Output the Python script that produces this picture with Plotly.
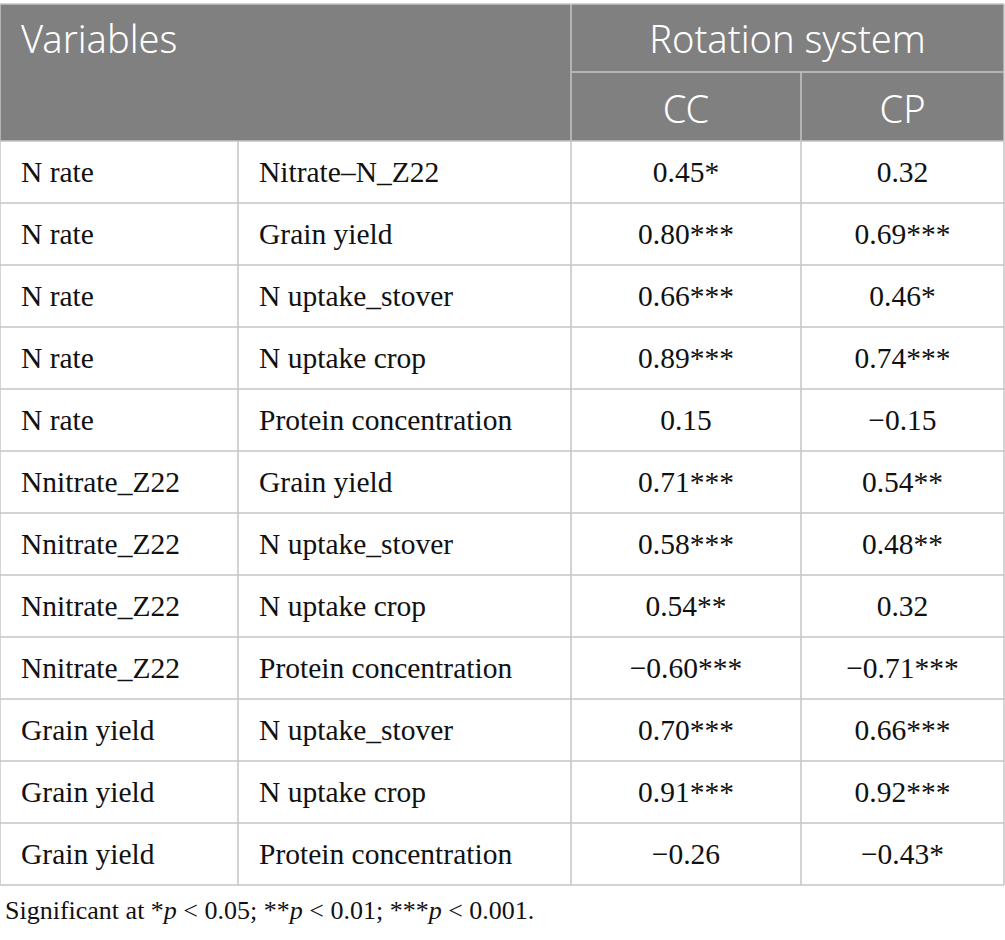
import plotly.graph_objects as go

# table content
var_first = ["N rate", "N rate", "N rate", "N rate", "N rate",
             "Nnitrate_Z22", "Nnitrate_Z22", "Nnitrate_Z22", "Nnitrate_Z22",
             "Grain yield", "Grain yield", "Grain yield"]
var_second = ["Nitrate–N_Z22", "Grain yield", "N uptake_stover", "N uptake crop",
              "Protein concentration", "Grain yield", "N uptake_stover", "N uptake crop",
              "Protein concentration", "N uptake_stover", "N uptake crop",
              "Protein concentration"]
cc_values = ["0.45*", "0.80***", "0.66***", "0.89***", "0.15", "0.71***", "0.58***",
             "0.54**", "−0.60***", "0.70***", "0.91***", "−0.26"]
cp_values = ["0.32", "0.69***", "0.46*", "0.74***", "−0.15", "0.54**", "0.48**",
             "0.32", "−0.71***", "0.66***", "0.92***", "−0.43*"]
header_top = ["Variables", "Rotation system"]
header_sub = ["CC", "CP"]
footnote = "Significant at *<i>p</i> < 0.05; **<i>p</i> < 0.01; ***<i>p</i> < 0.001."

# geometry (pixel-like axis units)
W, H = 1005, 940
col_edges = [0, 238, 571, 801, 1004]
top, head_split, head_bottom, row_h = 4, 72, 141, 62
pad = 21
text_nudge = 3  # scatter "middle" sits a bit high for these fonts
GRAY = "#808080"
LINE = "#c4c4c4"
SERIF = "Liberation Serif"
SANS = "Noto Sans"

n = len(cc_values)
row_mid = [head_bottom + (i + 0.5) * row_h + text_nudge for i in range(n)]
body_bottom = head_bottom + n * row_h
mid = lambda a, b: (a + b) / 2

fig = go.Figure()

body_font = dict(family=SERIF, size=29.5, color="#111111")
for col, vals in enumerate([var_first, var_second]):
    fig.add_trace(go.Scatter(x=[col_edges[col] + pad] * n, y=row_mid, text=vals,
                             mode="text", textposition="middle right",
                             textfont=body_font, hoverinfo="skip"))
for col, vals in zip([2, 3], [cc_values, cp_values]):
    fig.add_trace(go.Scatter(x=[mid(col_edges[col], col_edges[col + 1])] * n, y=row_mid,
                             text=vals, mode="text", textposition="middle center",
                             textfont=body_font, hoverinfo="skip"))

head_font = dict(family=SANS, size=38, color="white", weight=300)
y_top_text = mid(top, head_split) + 5
y_sub_text = mid(head_split, head_bottom) + 7
fig.add_trace(go.Scatter(x=[col_edges[0] + pad], y=[y_top_text],
                         text=[header_top[0]], mode="text", textposition="middle right",
                         textfont=head_font, hoverinfo="skip"))
fig.add_trace(go.Scatter(x=[mid(col_edges[2], col_edges[4])], y=[y_top_text],
                         text=[header_top[1]], mode="text", textposition="middle center",
                         textfont=head_font, hoverinfo="skip"))
fig.add_trace(go.Scatter(x=[mid(col_edges[2], col_edges[3]), mid(col_edges[3], col_edges[4])],
                         y=[y_sub_text] * 2, text=header_sub,
                         mode="text", textposition="middle center",
                         textfont=head_font, hoverinfo="skip"))

# header fill and rules
shapes = [dict(type="rect", x0=col_edges[0], x1=col_edges[-1], y0=top, y1=head_bottom,
               fillcolor=GRAY, line_width=0, layer="below")]
line = dict(color=LINE, width=1.5)
def hline(y, x0, x1):
    shapes.append(dict(type="line", x0=x0, x1=x1, y0=y, y1=y, line=line, layer="below"))
def vline(x, y0, y1):
    shapes.append(dict(type="line", x0=x, x1=x, y0=y0, y1=y1, line=line, layer="below"))

hline(top, col_edges[0], col_edges[-1])
hline(head_split, col_edges[2], col_edges[-1])
for i in range(n + 1):
    hline(head_bottom + i * row_h, col_edges[0], col_edges[-1])
for x in [col_edges[0], col_edges[2], col_edges[-1]]:
    vline(x, top, body_bottom)
vline(col_edges[1], head_bottom, body_bottom)
vline(col_edges[3], head_split, body_bottom)

fig.add_annotation(x=col_edges[0] + 3, y=body_bottom + 25, text=footnote, showarrow=False,
                   xanchor="left", yanchor="middle", xref="x", yref="y",
                   font=dict(family=SERIF, size=26, color="#111111"))

fig.update_layout(width=W, height=H, margin=dict(l=0, r=0, t=0, b=0),
                  paper_bgcolor="white", plot_bgcolor="white", showlegend=False,
                  shapes=shapes)
fig.update_xaxes(range=[0, W], visible=False, fixedrange=True)
fig.update_yaxes(range=[H, 0], visible=False, fixedrange=True)

# drop the default 8px page margin so the figure sits at the window origin
fig.write_html("out.html", config={"responsive": False, "displayModeBar": False},
               post_script="document.body.style.margin='0';"
                           "document.body.style.overflow='hidden';")
